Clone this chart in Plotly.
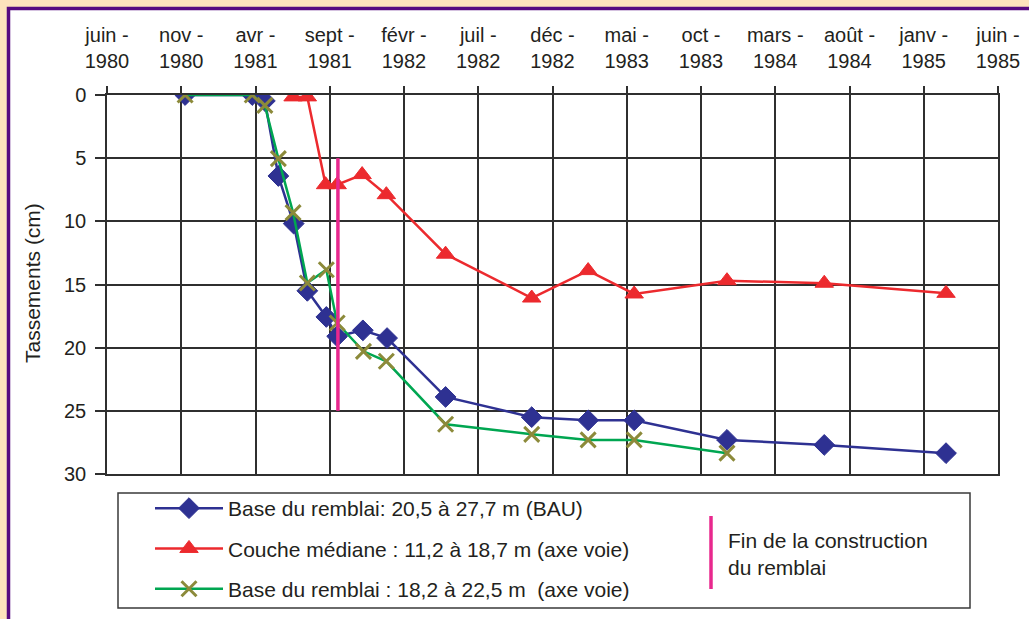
import plotly.graph_objects as go

# Months since June 1980 (tick every 5 months)
tick_months = [0, 5, 10, 15, 20, 25, 30, 35, 40, 45, 50, 55, 60]
tick_labels = ["juin -<br>1980", "nov -<br>1980", "avr -<br>1981", "sept -<br>1981",
               "févr -<br>1982", "juil -<br>1982", "déc -<br>1982", "mai -<br>1983",
               "oct -<br>1983", "mars -<br>1984", "août -<br>1984", "janv -<br>1985",
               "juin -<br>1985"]
y_ticks = [0, 5, 10, 15, 20, 25, 30]

# Base du remblai : 20,5 à 27,7 m (BAU)
bau_x = [5.26, 9.78, 10.63, 11.54, 12.57, 13.49, 14.77, 15.5, 17.23, 18.86,
         22.8, 28.6, 32.4, 35.5, 41.75, 48.3, 56.5]
bau_y = [0, 0, 0.47, 6.41, 10.18, 15.5, 17.57, 19.1, 18.63, 19.24,
         23.9, 25.5, 25.75, 25.75, 27.3, 27.7, 28.35]

# Couche médiane : 11,2 à 18,7 m (axe voie)
med_x = [12.53, 13.49, 14.72, 15.5, 17.18, 18.81, 22.8, 28.6, 32.4, 35.5, 41.75, 48.3, 56.5]
med_y = [0.15, 0.15, 7.1, 7.1, 6.3, 7.89, 12.6, 16.07, 13.9, 15.75, 14.7, 14.9, 15.7]

# Base du remblai : 18,2 à 22,5 m (axe voie)
axe_x = [5.26, 9.78, 10.63, 11.54, 12.53, 13.49, 14.77, 15.5, 17.27, 18.81,
         22.8, 28.6, 32.4, 35.5, 41.75]
axe_y = [0, 0, 0.82, 5.04, 9.31, 14.88, 13.83, 18.05, 20.29, 21.08,
         26.06, 26.86, 27.3, 27.3, 28.35]

# Fin de la construction du remblai
fin_x = 15.55
fin_y = [5, 25]

names = ["Base du remblai: 20,5 à 27,7 m (BAU)",
         "Couche médiane : 11,2 à 18,7 m (axe voie)",
         "Base du remblai : 18,2 à 22,5 m  (axe voie)"]
fin_label = "Fin de la construction<br>du remblai"

BLUE = "#2E3192"
RED = "#EC2A2E"
GREEN = "#00A651"
OLIVE = "#8C8A3A"
MAGENTA = "#E8288E"
PURPLE = "#560A80"
CREAM = "#FDE3BD"
GRID = "#2f2f2f"
TXT = "#231f20"
FONT = "Liberation Sans, Arial, sans-serif"

fig = go.Figure()
fig.add_trace(go.Scatter(x=bau_x, y=bau_y, mode="lines+markers", name=names[0],
                         line=dict(color=BLUE, width=2.5),
                         marker=dict(symbol="diamond", size=16, color=BLUE,
                                     line=dict(color=BLUE, width=1)),
                         legendgroup="a"))
fig.add_trace(go.Scatter(x=med_x, y=med_y, mode="lines+markers", name=names[1],
                         line=dict(color=RED, width=2.5),
                         marker=dict(symbol="triangle-up", size=16, color=RED,
                                     line=dict(color=RED, width=1)),
                         legendgroup="b"))
fig.add_trace(go.Scatter(x=axe_x, y=axe_y, mode="lines+markers", name=names[2],
                         line=dict(color=GREEN, width=2.5),
                         marker=dict(symbol="x-thin", size=15, color=OLIVE,
                                     line=dict(color=OLIVE, width=3)),
                         legendgroup="c"))
fig.add_trace(go.Scatter(x=[fin_x, fin_x], y=fin_y, mode="lines", showlegend=False,
                         line=dict(color=MAGENTA, width=3.5), hoverinfo="skip"))

W, H = 1029, 619
ml, mr, mt, mb = 107, 31, 95, 145
pw, ph = W - ml - mr, H - mt - mb


def px(x):
    return (x - ml) / pw


def py(y):
    return 1 - (y - mt) / ph


shapes = [
    # white panel with purple frame
    dict(type="rect", xref="paper", yref="paper", x0=px(8.5), x1=px(1200), y0=py(800), y1=py(8.5),
         fillcolor="white", line=dict(color=PURPLE, width=3.5), layer="below"),
    # legend box
    dict(type="rect", xref="paper", yref="paper", x0=px(118), x1=px(970), y0=py(608), y1=py(493),
         fillcolor="rgba(0,0,0,0)", line=dict(color="#3a3a3a", width=1.5)),
    # legend entry for the end-of-construction marker
    dict(type="line", xref="paper", yref="paper", x0=px(711), x1=px(711), y0=py(589), y1=py(516),
         line=dict(color=MAGENTA, width=3.5)),
]

annotations = [
    dict(text="Tassements (cm)", xref="paper", yref="paper", x=px(32), y=py(283),
         textangle=-90, showarrow=False, font=dict(family=FONT, size=21, color=TXT),
         xanchor="center", yanchor="middle"),
    dict(text=fin_label, xref="paper", yref="paper", x=px(726), y=py(554), showarrow=False,
         align="left", xanchor="left", yanchor="middle",
         font=dict(family=FONT, size=21, color=TXT)),
]

fig.update_layout(
    width=W, height=H, autosize=False,
    margin=dict(l=ml, r=mr, t=mt, b=mb, pad=0, autoexpand=False),
    paper_bgcolor=CREAM, plot_bgcolor="white",
    font=dict(family=FONT, size=20, color=TXT),
    shapes=shapes, annotations=annotations,
    showlegend=True,
    legend=dict(xref="container", yref="container", x=150 / W, y=1 - 488 / H,
                xanchor="left", yanchor="top",
                bgcolor="rgba(0,0,0,0)", borderwidth=0, tracegroupgap=10,
                font=dict(family=FONT, size=21, color=TXT),
                itemwidth=68),
    hovermode=False,
)
fig.update_xaxes(range=[0, 60], side="top", tickmode="array", tickvals=tick_months,
                 ticktext=tick_labels, ticks="outside", ticklen=7, tickwidth=1.5,
                 tickcolor=GRID, showgrid=True, gridcolor=GRID, gridwidth=1.5,
                 showline=True, linecolor=GRID, linewidth=1.5, mirror=True,
                 zeroline=False, ticklabelstandoff=10, automargin=False,
                 tickfont=dict(family=FONT, size=20, color=TXT))
fig.update_yaxes(range=[30, 0], tickmode="array", tickvals=y_ticks,
                 ticks="outside", ticklen=10, tickwidth=1.5, tickcolor=GRID,
                 showgrid=True, gridcolor=GRID, gridwidth=1.5,
                 showline=True, linecolor=GRID, linewidth=1.5, mirror=True,
                 zeroline=False, ticklabelstandoff=5, automargin=False,
                 tickfont=dict(family=FONT, size=20, color=TXT))

post = ("document.documentElement.style.margin='0';document.documentElement.style.overflow='hidden';"
        "document.body.style.margin='0';document.body.style.padding='0';document.body.style.overflow='hidden';")
fig.write_html("out.html", config={"displayModeBar": False, "responsive": False}, post_script=post)
